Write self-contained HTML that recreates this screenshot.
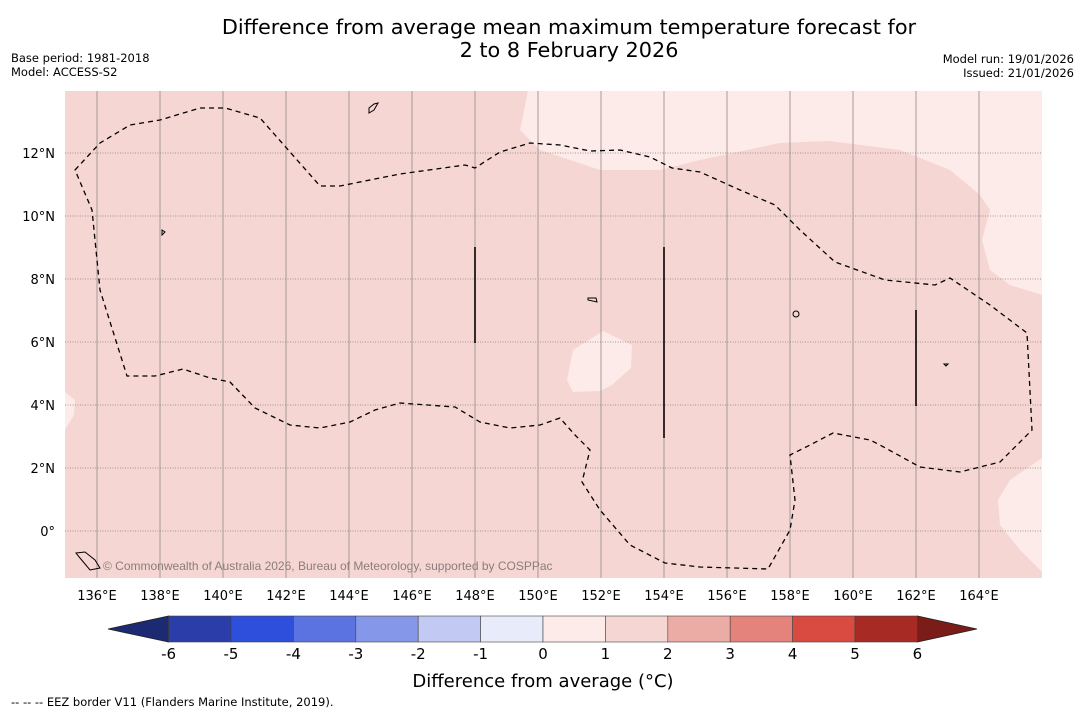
<!DOCTYPE html>
<html><head><meta charset="utf-8"><style>
body{margin:0;background:#fff;font-family:"DejaVu Sans","Liberation Sans",sans-serif;}
svg{display:block}
</style></head><body>
<svg id="chart" width="1085" height="713" viewBox="0 0 1085 713" xmlns="http://www.w3.org/2000/svg">
<text x="569" y="34" text-anchor="middle" font-size="20.8" fill="#000">Difference from average mean maximum temperature forecast for</text>
<text x="569" y="57" text-anchor="middle" font-size="20.8" fill="#000">2 to 8 February 2026</text>
<text x="11" y="62" font-size="11.5">Base period: 1981-2018</text>
<text x="11" y="76" font-size="11.5">Model: ACCESS-S2</text>
<text x="1074" y="63" font-size="11.5" text-anchor="end">Model run: 19/01/2026</text>
<text x="1074" y="77" font-size="11.5" text-anchor="end">Issued: 21/01/2026</text>
<g id="map">
<rect x="65" y="91" width="977" height="487" fill="#f5d6d3"/>
<path d="M528,91 L520,130 L540,150 L600,170 L660,170 L700,160 L780,143 L830,141 L900,150 L950,170 L980,195 L990,210 L982,240 L990,270 L1010,285 L1042,295 L1042,91 Z" fill="#fcebe8"/>
<path d="M1042,458 L1010,480 L998,500 L1000,525 L1020,550 L1042,572 Z" fill="#fcebe8"/>
<path d="M603,331 L632,345 L631,368 L612,385 L600,391 L573,392 L567,380 L573,350 Z" fill="#fcebe8"/>
<path d="M65,392 L75,400 L74,415 L65,430 Z" fill="#fcebe8"/>
<g id="grid"></g>
<path d="M75,170 L100,143 L130,125 L160,120 L200,108 L225,108 L260,118 L320,186 L340,186 L400,174 L465,165 L475,168 L500,152 L530,143 L560,145 L590,151 L620,150 L650,157 L672,168 L700,172 L740,190 L775,205 L800,230 L835,262 L885,280 L935,285 L950,278 L990,305 L1027,333 L1032,430 L1000,462 L960,472 L920,467 L880,445 L870,440 L833,433 L810,445 L790,455 L795,500 L790,530 L768,569 L700,567 L665,563 L630,545 L600,510 L582,482 L590,450 L575,435 L560,418 L540,425 L510,428 L480,422 L455,407 L400,403 L375,410 L350,422 L320,428 L290,425 L255,408 L230,382 L210,378 L183,369 L155,376 L127,376 L100,290 L92,210 Z" fill="none" stroke="#000" stroke-width="1.3" stroke-dasharray="5,4"/>
<line x1="475" y1="247" x2="475" y2="343" stroke="#000" stroke-width="1.6"/>
<line x1="664" y1="247" x2="664" y2="438" stroke="#000" stroke-width="1.6"/>
<line x1="916" y1="310" x2="916" y2="406" stroke="#000" stroke-width="1.6"/>
<g fill="none" stroke="#000" stroke-width="1">
<path d="M369,108 L374,104 L378,103 L374,110 L369,113 Z"/>
<path d="M162,230 L165,232 L162,235 Z"/>
<path d="M588,298 L596,298 L597,302 L588,300 Z"/>
<ellipse cx="796" cy="314" rx="3" ry="3"/>
<path d="M944,364 L948,364 L946,366 Z"/>
<path d="M76,553 L85,552 L95,560 L100,568 L90,570 L80,558 Z"/>
</g>
<text x="103" y="570" font-size="12" font-family="Liberation Sans, sans-serif" fill="#8a7d7b">© Commonwealth of Australia 2026, Bureau of Meteorology, supported by COSPPac</text>
</g>
<g id="axes"></g>
<g id="cbar"></g>
<text x="543" y="687" text-anchor="middle" font-size="18">Difference from average (°C)</text>
<text x="11" y="706" font-size="11.5">--  --  -- EEZ border V11 (Flanders Marine Institute, 2019).</text>
</svg>
<script>
const lonTicks=[136,138,140,142,144,146,148,150,152,154,156,158,160,162,164];
const latTicks=[0,2,4,6,8,10,12];
const cbarBounds=[-6,-5,-4,-3,-2,-1,0,1,2,3,4,5,6];
const cbarColors=["#2a3da8","#2e4fdc","#5a73e0","#8597e8","#c2c9f3","#e8ebf9","#fcebe8","#f5d6d3","#ecaca6","#e4837b","#d94a40","#a82a24"];
const NS="http://www.w3.org/2000/svg";
const xLon=l=>97+(l-136)*31.5;
const yLat=l=>531-l*31.5;
function mk(t,a,p){const e=document.createElementNS(NS,t);for(const k in a)e.setAttribute(k,a[k]);p.appendChild(e);return e;}
const grid=document.getElementById('grid'),axes=document.getElementById('axes');
lonTicks.forEach(l=>{
 const g=mk('line',{x1:xLon(l),x2:xLon(l),y1:91,y2:578,stroke:'#a89a98','stroke-width':1},grid);
 
 
 const t=mk('text',{x:xLon(l),y:600,'text-anchor':'middle','font-size':13},axes);
 t.textContent=l+'°E';
 
 
});
latTicks.forEach(l=>{
 const g=mk('line',{x1:65,x2:1042,y1:yLat(l),y2:yLat(l),stroke:'#8a7d7b','stroke-width':0.8,'stroke-dasharray':'1,1.5'},grid);
 
 
 const t=mk('text',{x:55,y:yLat(l)+5,'text-anchor':'end','font-size':13},axes);
 t.textContent=l===0?'0°':l+'°N';
 
 
});
const cb=document.getElementById('cbar');
const cx=v=>543+v*62.4, cy0=616, cy1=642;
let tri=mk('polygon',{points:`${cx(-6)},${cy0} ${cx(-6)},${cy1} 108,629`,fill:'#1b2a72',stroke:'#222','stroke-width':0.8},cb);


tri=mk('polygon',{points:`${cx(6)},${cy0} ${cx(6)},${cy1} 977,629`,fill:'#7a1c17',stroke:'#222','stroke-width':0.8},cb);


cbarColors.forEach((c,i)=>{
 const r=mk('rect',{x:cx(cbarBounds[i]),y:cy0,width:cx(cbarBounds[i+1])-cx(cbarBounds[i]),height:cy1-cy0,fill:c,stroke:'#444','stroke-width':0.6},cb);
 
 
});
cbarBounds.forEach(v=>{
 const t=mk('text',{x:cx(v),y:659,'text-anchor':'middle','font-size':15},cb);
 t.textContent=v;
 
 
});
</script>
</body></html>
